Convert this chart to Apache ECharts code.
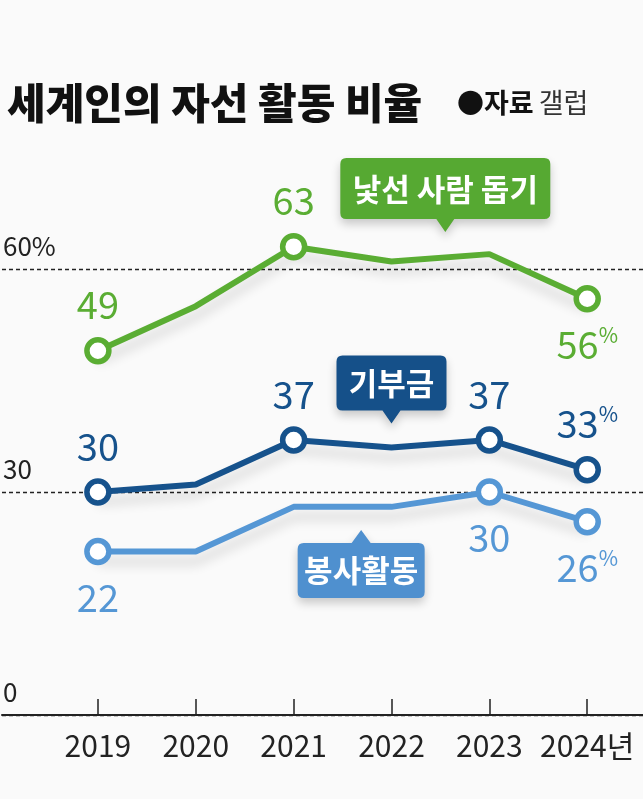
<!DOCTYPE html>
<html>
<head>
<meta charset="utf-8">
<script src="https://cdn.jsdelivr.net/npm/echarts@6.0.0/dist/echarts.min.js"></script>
<style>
html,body{margin:0;padding:0;background:#fafafa;}
#chart{width:643px;height:799px;}
</style>
</head>
<body>
<div id="chart"></div>
<script>
// ---- data ----
const years = [2019, 2020, 2021, 2022, 2023, 2024];
const strangers = [49, 55, 63, 61, 62, 56];   // 낯선 사람 돕기
const donation  = [30, 31, 37, 36, 37, 33];   // 기부금
const volunteer = [22, 22, 28, 28, 30, 26];   // 봉사활동
const strangersMarked = [2019, 2021, 2024];
const donationMarked  = [2019, 2021, 2023, 2024];
const volunteerMarked = [2019, 2023, 2024];
const strangersBelow = [2024];
const donationBelow  = [];
const volunteerBelow = [2019, 2023, 2024];
const seriesNames = ['낯선 사람 돕기', '기부금', '봉사활동'];
const yTicks = [0, 30, 60];
const titleText = '세계인의 자선 활동 비율';
const sourceLabel = '●자료';
const sourceName = '갤럽';

// ---- styles ----
const FONT = '"Noto Sans CJK KR", "Noto Sans", sans-serif';
const GREEN = '#5aad33';
const DARK = '#16528c';
const LIGHT = '#5597d5';

function buildData(values, marked, below) {
  return years.map((y, i) => {
    const isMarked = marked.indexOf(y) >= 0;
    return {
      value: [y, values[i]],
      symbol: isMarked ? 'circle' : 'none',
      label: { show: isMarked, position: below.indexOf(y) >= 0 ? 'bottom' : 'top' }
    };
  });
}
function lastYearFormatter(p) {
  const v = p.value[1];
  return p.value[0] === years[years.length - 1] ? '{n|' + v + '}{p|%}' : '{n|' + v + '}';
}
function makeSeries(name, values, marked, below, color, callout) {
  return {
    name: name,
    type: 'line',
    clip: false,
    data: buildData(values, marked, below),
    symbolSize: 22,
    lineStyle: { color: color, width: 6, shadowColor: 'rgba(0,0,0,0.16)', shadowBlur: 12, shadowOffsetY: 10 },
    itemStyle: { color: '#fff', borderColor: color, borderWidth: 5.5 },
    label: {
      distance: 12,
      color: color,
      fontFamily: FONT,
      formatter: lastYearFormatter,
      rich: {
        n: { fontSize: 38, fontFamily: FONT, color: color, lineHeight: 40 },
        p: { fontSize: 21, fontFamily: FONT, color: color, verticalAlign: 'top', lineHeight: 40, padding: [0, 0, 14, 0] }
      }
    },
    emphasis: { disabled: true },
    markPoint: callout
  };
}
function callout(name, coord, path, size, offY, labelOffY, color) {
  return {
    silent: true,
    symbol: path,
    symbolSize: size,
    symbolOffset: [0, offY],
    itemStyle: { color: color, shadowColor: 'rgba(0,0,0,0.2)', shadowBlur: 10, shadowOffsetY: 5 },
    label: {
      show: true, position: 'inside', offset: [0, labelOffY],
      formatter: name, color: '#fff', fontFamily: FONT, fontSize: 31, fontWeight: 'bold'
    },
    data: [{ name: name, coord: coord }]
  };
}
const pathDown210 = 'path://M6,0H204Q210,0 210,6V55Q210,61 204,61H114L105,74L96,61H6Q0,61 0,55V6Q0,0 6,0Z';
const pathDown110 = 'path://M6,0H104Q110,0 110,6V49Q110,55 104,55H64L55,68L46,55H6Q0,55 0,49V6Q0,0 6,0Z';
const pathUp127 = 'path://M6,13H54L63.5,0L73,13H121Q127,13 127,19V62Q127,68 121,68H6Q0,68 0,62V19Q0,13 6,13Z';

const chart = echarts.init(document.getElementById('chart'), null, { renderer: 'canvas' });
chart.setOption({
  animation: false,
  backgroundColor: '#fafafa',
  title: [
    { text: titleText, left: 2, top: 72,
      textStyle: { fontFamily: FONT, fontSize: 42, fontWeight: 900, color: '#111', lineHeight: 52 } },
    { text: '{a|' + sourceLabel + '} {b|' + sourceName + '}', left: 452, top: 84,
      textStyle: { rich: {
        a: { fontFamily: FONT, fontSize: 27, fontWeight: 'bold', color: '#111' },
        b: { fontFamily: FONT, fontSize: 27, fontWeight: 'normal', color: '#333' } } } }
  ],
  grid: { left: 0, right: 0, top: 269, bottom: 84, containLabel: false },
  xAxis: {
    type: 'value',
    min: 2018.02, max: 2024.57,
    axisLine: { show: true, lineStyle: { color: '#222', width: 2 } },
    axisTick: { show: true, inside: true, length: 16, customValues: years, lineStyle: { color: '#222', width: 1.5 } },
    axisLabel: {
      customValues: years, margin: 16, fontFamily: FONT, fontSize: 30, color: '#222',
      formatter: v => v === years[years.length - 1] ? v + '년' : String(v)
    },
    splitLine: { show: false },
    z: 5
  },
  yAxis: {
    type: 'value', min: 0, max: 60, interval: 30,
    axisLine: { show: false }, axisTick: { show: false },
    axisLabel: {
      inside: true, margin: 1, fontFamily: FONT, fontSize: 26, color: '#222',
      verticalAlign: 'bottom', padding: [0, 0, 10, 0],
      formatter: v => v === yTicks[yTicks.length - 1] ? v + '%' : String(v)
    },
    splitLine: { show: true, lineStyle: { color: '#222', type: [4, 3], width: 1.4 } }
  },
  series: [
    makeSeries(seriesNames[2], volunteer, volunteerMarked, volunteerBelow, LIGHT,
      callout(seriesNames[2], [2021.69, 24.9], pathUp127, [127, 68], 34, 6, '#4f90cf')),
    makeSeries(seriesNames[1], donation, donationMarked, donationBelow, DARK,
      callout(seriesNames[1], [2022.0, 39.2], pathDown110, [110, 68], -34, -6, '#155089')),
    makeSeries(seriesNames[0], strangers, strangersMarked, strangersBelow, GREEN,
      callout(seriesNames[0], [2022.55, 60], pathDown210, [210, 74], -37 - 37, -6, '#56a932'))
  ]
});
</script>
</body>
</html>
